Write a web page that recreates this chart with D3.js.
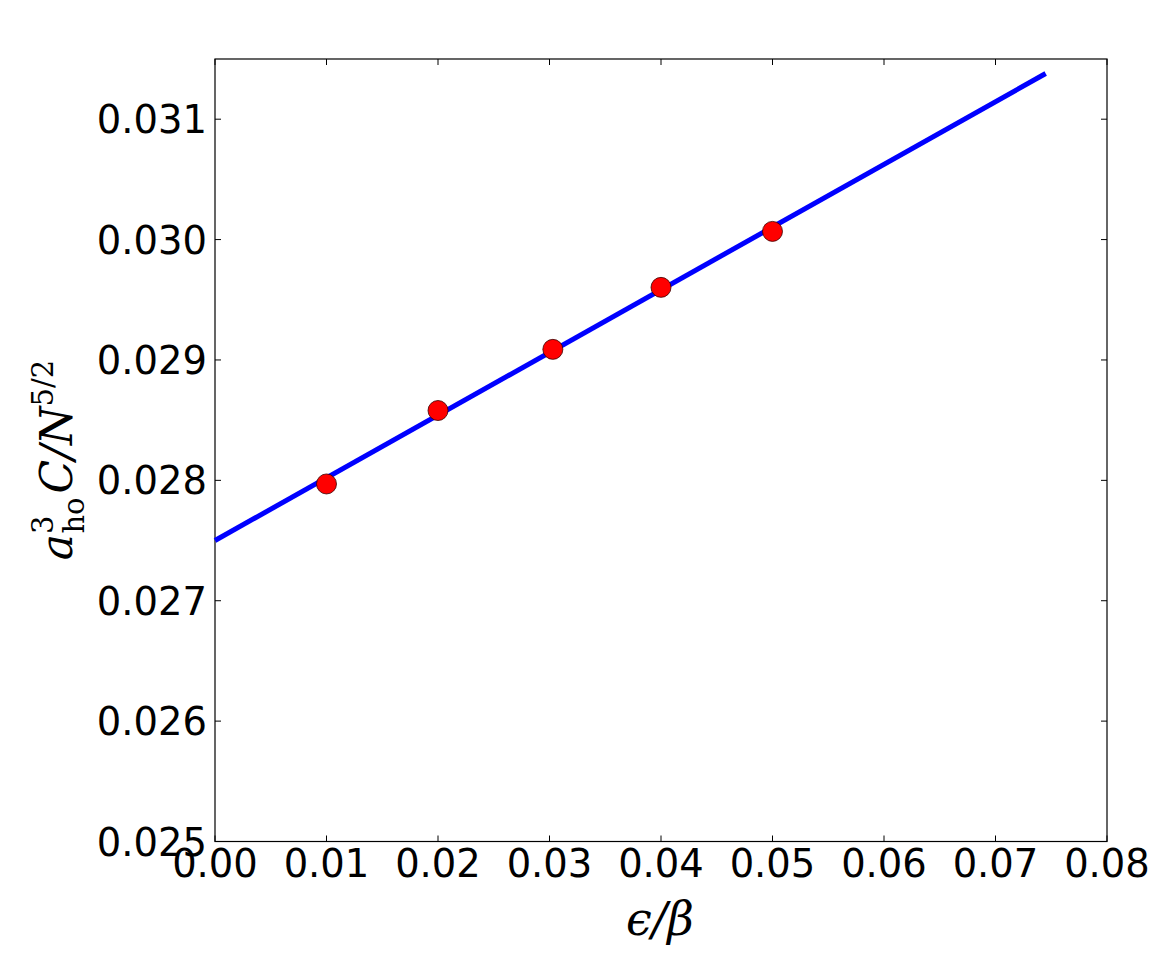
<!DOCTYPE html>
<html><head><meta charset="utf-8">
<script src="https://cdn.jsdelivr.net/npm/d3@7"></script>
<style>body{margin:0;background:#fff}svg{display:block}</style>
</head><body>
<svg id="c" width="1168" height="953"></svg>
<script>
const pointsX = [0.01, 0.02, 0.0303, 0.04, 0.05];
const pointsY = [0.02797, 0.02858, 0.029088, 0.029603, 0.030068];
const fitX = [0.0, 0.0745];
const fitY = [0.02750, 0.03138];
const xTicks = [0, 0.01, 0.02, 0.03, 0.04, 0.05, 0.06, 0.07, 0.08];
const yTicks = [0.025, 0.026, 0.027, 0.028, 0.029, 0.030, 0.031];

const svg = d3.select('#c');
const L = 215, R = 1107, T = 59, B = 841.5;
const x = d3.scaleLinear().domain([0, 0.08]).range([L, R]);
const y = d3.scaleLinear().domain([0.025, 0.0315]).range([B, T]);
const font = 'DejaVu Sans, sans-serif';
const fs = 38.5;

// frame
svg.append('rect').attr('x', L).attr('y', T).attr('width', R - L).attr('height', B - T)
  .attr('fill', 'none').attr('stroke', '#000').attr('stroke-width', 1.2);

const tl = 6;
const g = svg.append('g');
xTicks.forEach(t => {
  g.append('line').attr('x1', x(t)).attr('x2', x(t)).attr('y1', B).attr('y2', B - tl).attr('stroke', '#000');
  g.append('line').attr('x1', x(t)).attr('x2', x(t)).attr('y1', T).attr('y2', T + tl).attr('stroke', '#000');
  g.append('text').attr('x', x(t)).attr('y', 877).attr('text-anchor', 'middle')
    .attr('font-family', font).attr('font-size', fs).text(d3.format('.2f')(t));
});
yTicks.forEach(t => {
  g.append('line').attr('x1', L).attr('x2', L + tl).attr('y1', y(t)).attr('y2', y(t)).attr('stroke', '#000');
  g.append('line').attr('x1', R).attr('x2', R - tl).attr('y1', y(t)).attr('y2', y(t)).attr('stroke', '#000');
  g.append('text').attr('x', 207).attr('y', y(t) + 14).attr('text-anchor', 'end')
    .attr('font-family', font).attr('font-size', fs).text(d3.format('.3f')(t));
});

// fit line
const line = d3.line().x(d => x(d[0])).y(d => y(d[1]));
svg.append('path').datum(fitX.map((v, i) => [v, fitY[i]])).attr('d', line)
  .attr('fill', 'none').attr('stroke', '#0000ff').attr('stroke-width', 5);

// points
svg.selectAll('circle.p').data(pointsX.map((v, i) => [v, pointsY[i]])).enter()
  .append('circle').attr('cx', d => x(d[0])).attr('cy', d => y(d[1])).attr('r', 10)
  .attr('fill', '#ff0000').attr('stroke', '#3a0000').attr('stroke-width', 0.8);

// x label
const serif = 'DejaVu Serif, serif';
const xl = svg.append('text').attr('x', 660).attr('y', 935).attr('text-anchor', 'middle')
  .attr('font-family', serif).attr('font-style', 'italic').attr('font-size', 46);
xl.append('tspan').text('ϵ/β');

// y label
const yl = svg.append('text').attr('transform', 'translate(72,460) rotate(-90)')
  .attr('text-anchor', 'middle').attr('font-family', serif).attr('font-size', 44);
yl.append('tspan').attr('font-style', 'italic').text('a');
yl.append('tspan').attr('font-size', 29).attr('dy', -19).text('3');
yl.append('tspan').attr('font-size', 29).attr('dx', -18).attr('dy', 31).text('ho');
yl.append('tspan').attr('font-style', 'italic').attr('dx', 4).attr('dy', -12).text('C/N');
yl.append('tspan').attr('font-size', 29).attr('dy', -19).text('5/2');
</script>
</body></html>
